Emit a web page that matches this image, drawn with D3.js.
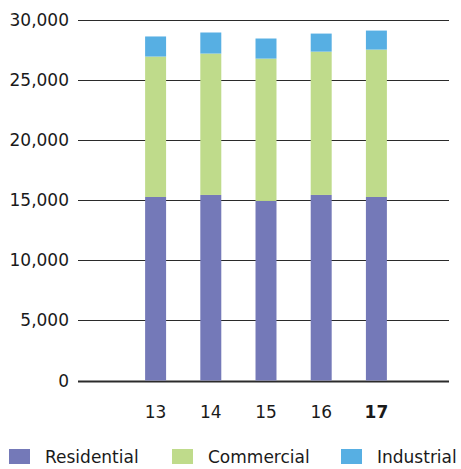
<!DOCTYPE html>
<html>
<head>
<meta charset="utf-8">
<script src="https://cdn.jsdelivr.net/npm/d3@7"></script>
<style>
  body { margin: 0; background: #fff; }
  svg { display: block; }
  text { font-family: "DejaVu Sans", sans-serif; fill: #1a1a1a; }
</style>
</head>
<body>
<svg id="chart" width="461" height="469"></svg>
<script>
const years = ["13", "14", "15", "16", "17"];
const residential = [15250, 15420, 14920, 15420, 15250];
const commercial = [11670, 11750, 11830, 11910, 12250];
const industrial = [1670, 1750, 1670, 1500, 1580];
const yTicks = [0, 5000, 10000, 15000, 20000, 25000, 30000];
const seriesNames = ["Residential", "Commercial", "Industrial"];
const colors = ["#7479b8", "#bfdb8b", "#57afe3"];

const svg = d3.select("#chart");
const y = d3.scaleLinear().domain([0, 30000]).range([380.5, 19.5]);
const x = d3.scaleBand().domain(years).range([128, 404]).paddingInner(0.62).paddingOuter(0.31);

// gridlines
svg.append("g").selectAll("line").data(yTicks).join("line")
  .attr("x1", 78).attr("x2", 449)
  .attr("y1", d => Math.round(y(d)) + 0.5).attr("y2", d => Math.round(y(d)) + 0.5)
  .attr("stroke", "#2b2b2b").attr("stroke-width", d => d === 0 ? 2 : 1);

// y labels
svg.append("g").selectAll("text").data(yTicks).join("text")
  .attr("x", 69).attr("y", d => y(d)).attr("dy", "0.36em")
  .attr("text-anchor", "end").attr("font-size", 17)
  .text(d => d3.format(",")(d));

// stack
const rows = years.map((yr, i) => ({ year: yr, Residential: residential[i], Commercial: commercial[i], Industrial: industrial[i] }));
const stack = d3.stack().keys(seriesNames)(rows);

svg.append("g").selectAll("g").data(stack).join("g")
  .attr("fill", (d, i) => colors[i])
  .selectAll("rect").data(d => d).join("rect")
  .attr("x", d => x(d.data.year))
  .attr("width", x.bandwidth())
  .attr("y", d => y(d[1]))
  .attr("height", d => y(d[0]) - y(d[1]));

// x labels
svg.append("g").selectAll("text").data(years).join("text")
  .attr("x", d => x(d) + x.bandwidth() / 2).attr("y", 418)
  .attr("text-anchor", "middle").attr("font-size", 17)
  .attr("font-weight", (d, i) => i === years.length - 1 ? "bold" : "normal")
  .text(d => d);

// legend
const legendX = [9, 172, 341];
const lg = svg.append("g").selectAll("g").data(seriesNames).join("g")
  .attr("transform", (d, i) => `translate(${legendX[i]},449)`);
lg.append("rect").attr("width", 21).attr("height", 15).attr("fill", (d, i) => colors[i]);
lg.append("text").attr("x", 36).attr("y", 14).attr("font-size", 17).text(d => d);
</script>
</body>
</html>
